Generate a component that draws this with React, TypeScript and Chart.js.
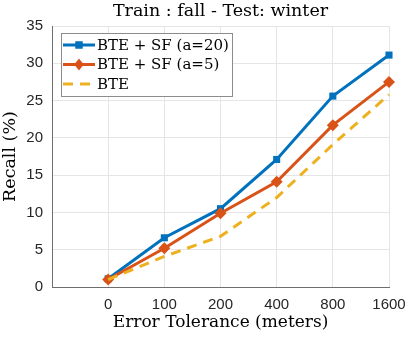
import React, { useEffect, useRef } from "react";
import { Chart, registerables } from "chart.js";

Chart.register(...registerables);

const categories = ["0", "100", "200", "400", "800", "1600"];
const sfA20 = [1.1, 6.6, 10.5, 17.1, 25.6, 31.1];
const sfA5 = [1.0, 5.2, 9.9, 14.1, 21.7, 27.5];
const bte = [1.0, 4.1, 6.8, 12.0, 19.1, 25.8];
const yTicks = [0, 5, 10, 15, 20, 25, 30, 35];

const BLUE = "#0072BD";
const ORANGE = "#D95319";
const YELLOW = "#EDB120";
const SERIF = "'DejaVu Serif', serif";
const SANS = "'Liberation Sans', Arial, sans-serif";

const toPoints = (arr: number[]) => arr.map((v, i) => ({ x: i, y: v }));

const legendPlugin = {
  id: "boxLegend",
  afterDraw(chart: any) {
    const ctx = chart.ctx;
    const x0 = 61, y0 = 33, w = 171, h = 63;
    ctx.save();
    ctx.fillStyle = "#ffffff";
    ctx.fillRect(x0, y0, w, h);
    ctx.strokeStyle = "#8c8c8c";
    ctx.lineWidth = 1;
    ctx.strokeRect(x0 + 0.5, y0 + 0.5, w, h);
    const rows = [45, 64.5, 84];
    chart.data.datasets.forEach((ds: any, i: number) => {
      const y = rows[i];
      ctx.strokeStyle = ds.borderColor;
      ctx.lineWidth = ds.borderWidth;
      ctx.setLineDash(ds.borderDash || []);
      ctx.beginPath();
      ctx.moveTo(63, y);
      ctx.lineTo(95, y);
      ctx.stroke();
      ctx.setLineDash([]);
      if (ds.pointRadius > 0) {
        ctx.fillStyle = ds.borderColor;
        const r = ds.pointRadius;
        ctx.beginPath();
        if (ds.pointStyle === "rect") {
          ctx.rect(79 - r * 0.75, y - r * 0.75, r * 1.5, r * 1.5);
        } else {
          ctx.moveTo(79, y - r);
          ctx.lineTo(79 + r * 0.8, y);
          ctx.lineTo(79, y + r);
          ctx.lineTo(79 - r * 0.8, y);
          ctx.closePath();
        }
        ctx.fill();
      }
      ctx.fillStyle = "#000";
      ctx.font = `15px ${SERIF}`;
      ctx.textBaseline = "middle";
      ctx.textAlign = "left";
      ctx.fillText(ds.label, 97, y + 1);
    });
    ctx.restore();
  },
};

export default function App() {
  const ref = useRef<HTMLCanvasElement | null>(null);
  useEffect(() => {
    document.body.style.margin = "0";
    if (!ref.current) return;
    const chart = new Chart(ref.current, {
      type: "line",
      data: {
        datasets: [
          {
            label: "BTE + SF (a=20)",
            data: toPoints(sfA20),
            borderColor: BLUE,
            backgroundColor: BLUE,
            borderWidth: 3,
            pointStyle: "rect",
            pointRadius: 5,
            pointBorderWidth: 0,
            order: 3,
            clip: false,
          },
          {
            label: "BTE + SF (a=5)",
            data: toPoints(sfA5),
            borderColor: ORANGE,
            backgroundColor: ORANGE,
            borderWidth: 3,
            pointStyle: "rectRot",
            pointRadius: 6,
            pointBorderWidth: 0,
            order: 2,
            clip: false,
          },
          {
            label: "BTE",
            data: toPoints(bte),
            borderColor: YELLOW,
            backgroundColor: YELLOW,
            borderWidth: 3,
            borderDash: [10, 7],
            pointRadius: 0,
            order: 1,
            clip: false,
          },
        ],
      },
      options: {
        animation: false,
        responsive: false,
        maintainAspectRatio: false,
        layout: { padding: { left: 0, right: 18, top: 0, bottom: 0 } },
        plugins: {
          legend: { display: false },
          tooltip: { enabled: false },
          title: {
            display: true,
            fullSize: false,
            text: "Train : fall - Test: winter",
            color: "#000",
            font: { family: SERIF, size: 17.5, weight: "normal", lineHeight: 1.2 },
            padding: { top: 1, bottom: 4 },
          },
        },
        scales: {
          x: {
            type: "linear",
            min: -1,
            max: 5,
            afterFit: (s: any) => {
              s.height = 52;
              s.paddingLeft = 0;
              s.paddingRight = 0;
            },
            afterBuildTicks: (s: any) => {
              s.ticks = [-1, 0, 1, 2, 3, 4, 5].map((v) => ({ value: v }));
            },
            ticks: {
              color: "#262626",
              font: { family: SANS, size: 15 },
              padding: 9,
              maxRotation: 0,
              autoSkip: false,
              callback: (v: any) => (v >= 0 ? categories[v] : ""),
            },
            grid: { color: "#e5e5e5", lineWidth: 1, drawTicks: false },
            border: { color: "#6e6e6e", width: 1 },
            title: {
              display: true,
              text: "Error Tolerance (meters)",
              color: "#000",
              font: { family: SERIF, size: 17 },
              padding: { top: 0, bottom: 6 },
            },
          },
          y: {
            min: 0,
            max: 35,
            afterFit: (s: any) => {
              s.width = 52;
              s.paddingTop = 0;
              s.paddingBottom = 0;
            },
            afterBuildTicks: (s: any) => {
              s.ticks = yTicks.map((v) => ({ value: v }));
            },
            ticks: {
              color: "#262626",
              font: { family: SANS, size: 15 },
              padding: 9,
            },
            grid: { color: "#e5e5e5", lineWidth: 1, drawTicks: false },
            border: { color: "#6e6e6e", width: 1 },
            title: {
              display: true,
              text: "Recall (%)",
              color: "#000",
              font: { family: SERIF, size: 17.5 },
              padding: { top: 0, bottom: 0 },
            },
          },
        },
      },
      plugins: [legendPlugin],
    });
    return () => chart.destroy();
  }, []);
  return (
    <div style={{ width: 407, height: 339 }}>
      <canvas ref={ref} width={407} height={339} style={{ display: "block" }} />
    </div>
  );
}
